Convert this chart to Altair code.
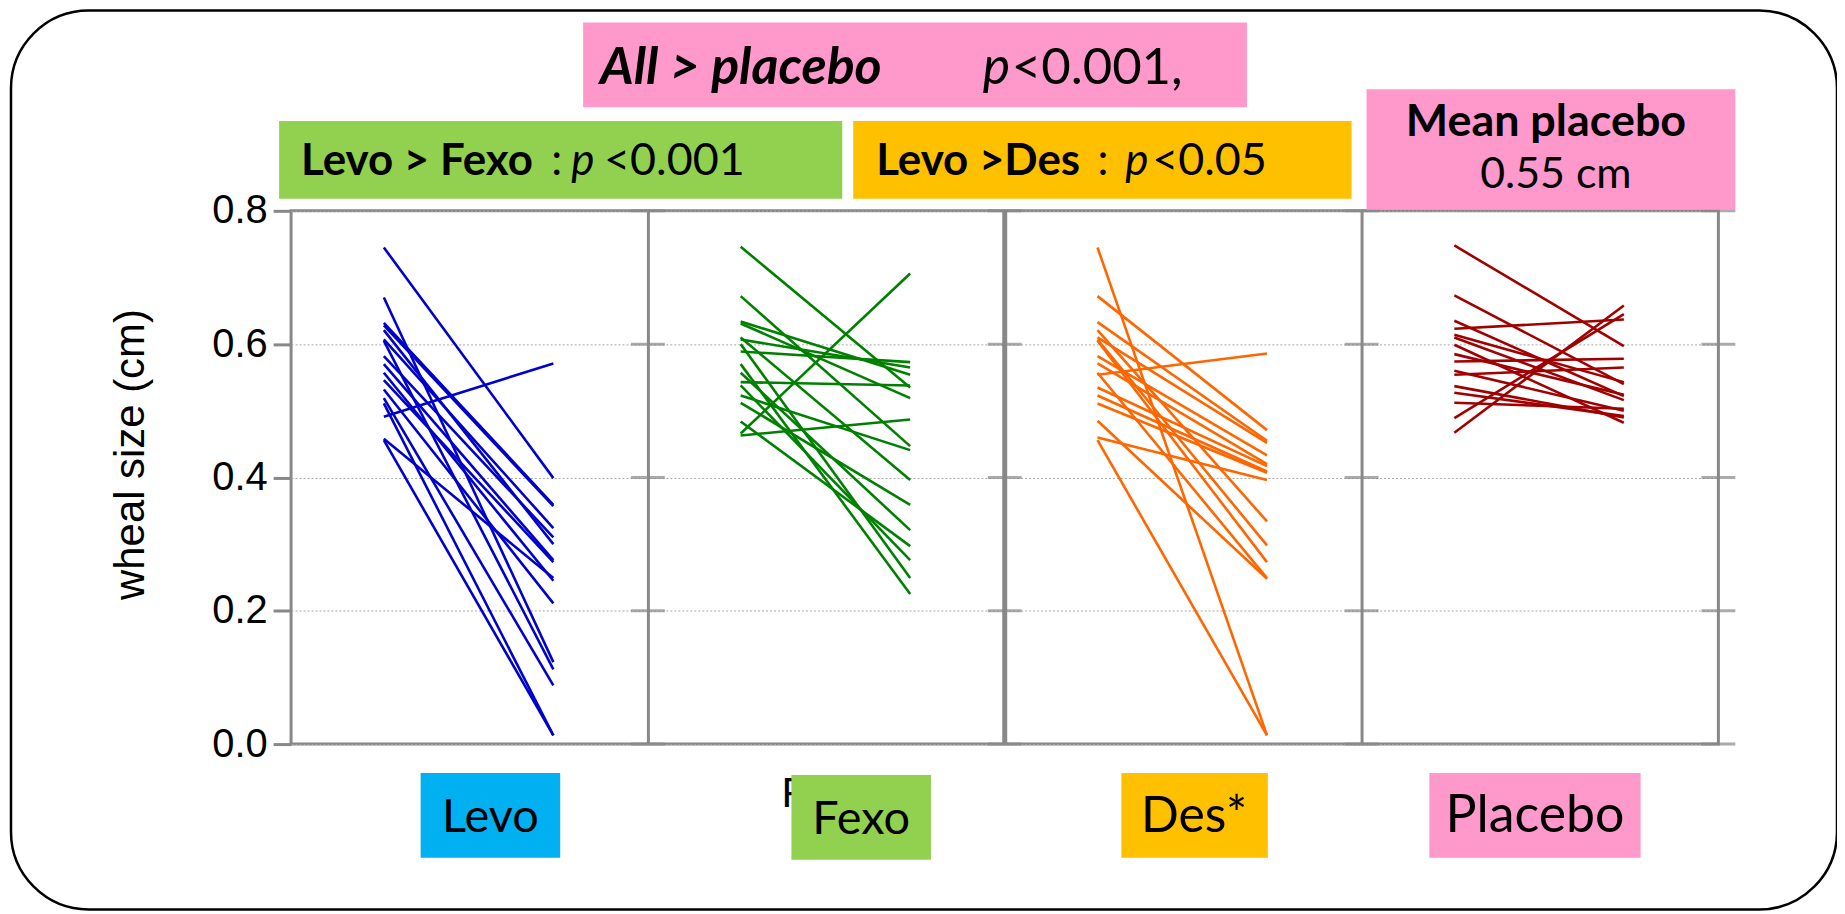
import altair as alt
import pandas as pd

# ---------------- data ----------------
treatments = ["Levo", "Fexo", "Des*", "Placebo"]
line_colors = ["#0000CC", "#008000", "#FF6600", "#A00000"]

levo_pre = [0.745, 0.670, 0.632, 0.628, 0.621, 0.607, 0.605, 0.582, 0.570,
            0.557, 0.546, 0.532, 0.519, 0.511, 0.491, 0.458, 0.456]
levo_post = [0.399, 0.123, 0.359, 0.357, 0.300, 0.324, 0.112, 0.310, 0.276,
             0.245, 0.273, 0.211, 0.088, 0.013, 0.571, 0.249, 0.013]

fexo_pre = [0.746, 0.672, 0.634, 0.631, 0.610, 0.607, 0.600, 0.589, 0.570,
            0.557, 0.543, 0.538, 0.523, 0.512, 0.484, 0.466, 0.463]
fexo_post = [0.535, 0.447, 0.554, 0.519, 0.396, 0.565, 0.249, 0.573, 0.225,
             0.321, 0.538, 0.276, 0.441, 0.359, 0.297, 0.706, 0.487]

des_pre = [0.745, 0.672, 0.633, 0.621, 0.610, 0.607, 0.605, 0.582, 0.571,
           0.557, 0.554, 0.535, 0.523, 0.511, 0.485, 0.460, 0.456]
des_post = [0.013, 0.471, 0.455, 0.334, 0.452, 0.298, 0.273, 0.433, 0.420,
            0.249, 0.586, 0.417, 0.409, 0.407, 0.248, 0.396, 0.013]

placebo_pre = [0.748, 0.673, 0.635, 0.623, 0.614, 0.610, 0.599, 0.585, 0.574,
               0.560, 0.554, 0.537, 0.527, 0.512, 0.489, 0.467]
placebo_post = [0.597, 0.540, 0.522, 0.637, 0.543, 0.516, 0.482, 0.524, 0.578,
                0.500, 0.565, 0.490, 0.492, 0.503, 0.645, 0.658]

phases = ["before", "after"]
y_ticks = [0.0, 0.2, 0.4, 0.6, 0.8]
panel_edges = [1, 2, 3, 4]

pre_sets = [levo_pre, fexo_pre, des_pre, placebo_pre]
post_sets = [levo_post, fexo_post, des_post, placebo_post]

rows = []
for ti, (name, pre, post) in enumerate(zip(treatments, pre_sets, post_sets)):
    for si, (a, b) in enumerate(zip(pre, post)):
        rows.append({"treatment": name, "tindex": ti, "subject": f"{name}-{si}",
                     "phase": phases[0], "wheal": a})
        rows.append({"treatment": name, "tindex": ti, "subject": f"{name}-{si}",
                     "phase": phases[1], "wheal": b})
df = pd.DataFrame(rows)

tick_df = pd.DataFrame([{"xpos": k, "wheal": v} for k in panel_edges for v in y_ticks])
mid_df = pd.DataFrame({"xpos": [2]})

# ---------------- encodings ----------------
GRAY = "#888888"
x_enc = alt.X("xpos:Q", scale=alt.Scale(domain=[0, 4], nice=False, zero=False),
              axis=alt.Axis(values=[1, 2, 3], grid=True, labels=False, ticks=False,
                            domain=False, title=None))
y_enc = alt.Y("wheal:Q", scale=alt.Scale(domain=[0, 0.8], nice=False),
              axis=alt.Axis(values=y_ticks, format=".1f", title="wheal size (cm)"))

lines = alt.Chart(df).transform_calculate(
    xpos="datum.tindex + (datum.phase == 'before' ? 0.26 : 0.735)"
).mark_line(strokeWidth=2.6).encode(
    x=x_enc, y=y_enc,
    color=alt.Color("treatment:N", scale=alt.Scale(domain=treatments, range=line_colors),
                    legend=None),
    detail="subject:N",
)

edge_ticks = alt.Chart(tick_df).mark_tick(orient="horizontal", size=34, thickness=3,
                                           color=GRAY).encode(x=x_enc, y=y_enc)
mid_rule = alt.Chart(mid_df).mark_rule(strokeWidth=5, color=GRAY).encode(x=x_enc)

one = pd.DataFrame({"a": [0]})


def box(x1, x2, y1, y2, color):
    return alt.Chart(one).mark_rect(color=color).encode(
        x=alt.value(x1), x2=alt.value(x2), y=alt.value(y1), y2=alt.value(y2))


def label(text, x, y, size, weight="normal", style="normal", align="left",
          font="Lato", color="black"):
    return alt.Chart(one).mark_text(
        text=text, fontSize=size, fontWeight=weight, fontStyle=style, align=align,
        baseline="alphabetic", font=font, color=color
    ).encode(x=alt.value(x), y=alt.value(y))


outer = alt.Chart(one).mark_rect(fillOpacity=0, stroke="black", strokeWidth=2.5,
                                 cornerRadius=78).encode(
    x=alt.value(-281), x2=alt.value(1551), y=alt.value(-201), y2=alt.value(701))

layers = [
    outer,
    lines,
    mid_rule,
    edge_ticks,
    # top annotation boxes
    box(293, 959, -189, -104, "#FF99CC"),
    label("All > placebo", 310, -127, 52, "bold", "italic"),
    label("p", 694, -127, 52, "normal", "italic"),
    label("<0.001,", 723, -127, 51),
    box(-12, 553, -90, -12, "#92D050"),
    label("Levo > Fexo", 10, -36, 44, "bold"),
    label(":", 261, -36, 44),
    label("p", 281, -36, 44, "normal", "italic"),
    label("<0.001", 314, -36, 45),
    box(564, 1064, -90, -12, "#FFC000"),
    label("Levo >Des", 587, -36, 44, "bold"),
    label(":", 809, -36, 44),
    label("p", 837, -36, 44, "normal", "italic"),
    label("<0.05", 864, -36, 45),
    box(1079, 1449, -122, -1, "#FF99CC"),
    label("Mean placebo", 1259, -75, 45, "bold", align="center"),
    label("0.55 cm", 1269, -23, 43, align="center"),
    # bottom labels
    label("P", 492, 598, 42, font="Liberation Sans"),
    box(130, 270, 564, 649, "#00B0F0"),
    label("Levo", 200, 623, 47, align="center"),
    box(502, 642, 566, 651, "#92D050"),
    label("Fexo", 572, 625, 47, align="center"),
    box(833, 980, 564, 649, "#FFC000"),
    label("Des*", 906, 623, 50, align="center"),
    box(1142, 1354, 564, 649, "#FF99CC"),
    label("Placebo", 1248, 623, 52, align="center"),
]

chart = alt.layer(*layers).properties(
    width=1432, height=535,
    padding={"left": 284, "top": 202, "right": 119, "bottom": 167},
    autosize=alt.AutoSizeParams(type="none"),
    background="white",
).configure_view(
    stroke=GRAY, strokeWidth=3
).configure_axisX(
    gridColor=GRAY, gridWidth=3
).configure_axisY(
    grid=True, gridColor="#a8a8a8", gridDash=[2, 2], gridWidth=1,
    tickSize=18, tickWidth=3, tickColor=GRAY, domain=False,
    labelFontSize=40, labelFont="Liberation Sans", labelColor="black",
    labelPadding=6,
    titleFontSize=42, titleFont="Liberation Sans", titleFontWeight="normal",
    titleColor="black", titleX=-161, titleY=244, titleAngle=-90,
    titleAlign="center", titleBaseline="middle",
)

chart.save("out.html", embed_options={"renderer": "svg", "actions": False})
